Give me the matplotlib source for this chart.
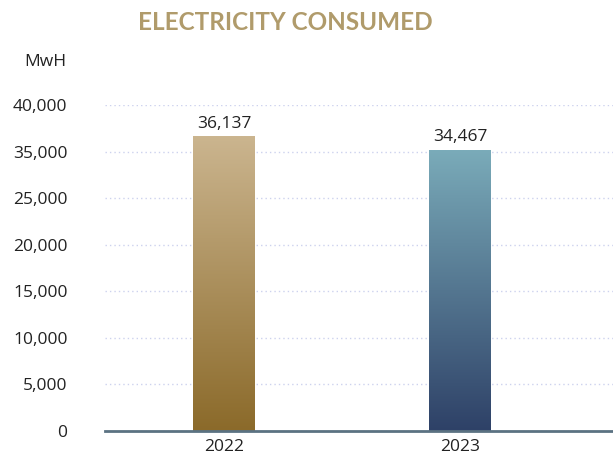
import matplotlib
matplotlib.use("Agg")
import matplotlib.pyplot as plt
import numpy as np
from matplotlib.colors import LinearSegmentedColormap

years = ["2022", "2023"]
values = [36137, 34467]
top_colors = ["#cbb58f", "#7aabb9"]
bottom_colors = ["#8b6a2a", "#2e4167"]
ytick_labels = ["0", "5,000", "10,000", "15,000", "20,000", "25,000", "35,000", "40,000"]
ymax = 40000

plt.rcParams['font.family'] = ['Open Sans', 'DejaVu Sans']

fig = plt.figure(figsize=(6.13, 4.54), dpi=100)
ax = fig.add_axes([105/613, 1 - 431/454, (613-105)/613, (431-105)/454])

x = np.arange(len(years))
bars = ax.bar(x, values, width=0.26, color='none', zorder=3)

grad = np.linspace(1, 0, 256).reshape(-1, 1)
for b, tc, bc, v in zip(bars, top_colors, bottom_colors, values):
    cmap = LinearSegmentedColormap.from_list('g', [bc, tc])
    x0, y0 = b.get_x(), b.get_y()
    w, h = b.get_width(), b.get_height()
    ax.imshow(grad, cmap=cmap, extent=[x0, x0 + w, y0, y0 + h], aspect='auto', zorder=3, vmin=0, vmax=1)
    ax.text(x0 + w/2, v + 600, f"{v:,}", ha='center', va='bottom', fontsize=12.5, color='#222222', zorder=4)

ax.set_xlim(-0.504, 1.648)
ax.set_ylim(0, ymax)
ax.set_xticks(x)
ax.set_xticklabels(years, fontsize=12.5, color='#222222')
ypos = np.linspace(0, ymax, len(ytick_labels))
ax.set_yticks(ypos)
ax.set_yticklabels(ytick_labels, fontsize=12.5, color='#222222')
ax.tick_params(axis='both', length=0)
ax.tick_params(axis='y', pad=27)
ax.tick_params(axis='x', pad=5.5)
for s in ['top', 'right', 'left']:
    ax.spines[s].set_visible(False)
ax.spines['bottom'].set_color('#5b7282')
ax.spines['bottom'].set_linewidth(2)
ax.spines['bottom'].set_zorder(5)
ax.yaxis.grid(True, linestyle=(0, (1, 2.2)), color='#cdd2ee', linewidth=1)
ax.set_axisbelow(True)

fig.text(285/613, 1 - 22/454, "ELECTRICITY CONSUMED", ha='center', va='center',
         fontsize=17.5, fontweight='bold', color='#b09b6b', family=['Lato', 'DejaVu Sans'])
fig.text(45/613, 1 - 62/454, "MwH", ha='center', va='center', fontsize=12.5, color='#222222')

fig.savefig("out.png", dpi=100)
